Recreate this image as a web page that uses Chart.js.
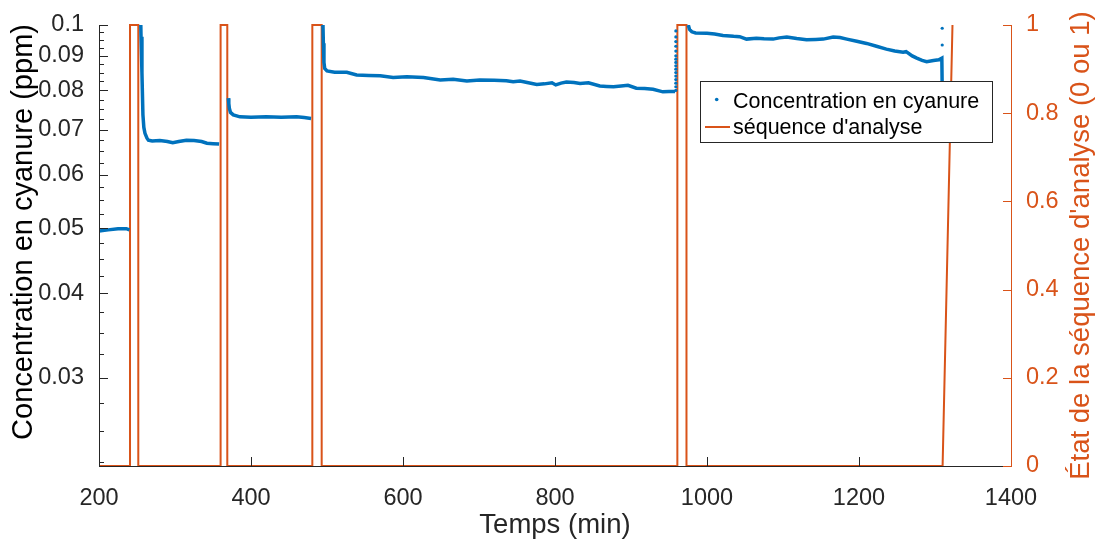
<!DOCTYPE html>
<html><head><meta charset="utf-8">
<script src="https://cdn.jsdelivr.net/npm/chart.js@4/dist/chart.umd.min.js"></script>
<style>html,body{margin:0;padding:0;background:#fff}</style>
</head><body>
<canvas id="c" width="1096" height="542"></canvas>
<script>
// ---- data ----
const concTime = [200,212,225,236,240, 246,
  255,255.3,256.5,257.8,259,260.5,263,265,270,280,290,297,305,315,325,335,342,350,358, 364,
  370.2,370.8,371.5,373,376.7,385.5,400,420,440,460,470,479, 486,
  494.7,495.2,496,497,500,510,526,539,555,570,587,605,627,649,666,684,701,720,736,745,754,765,776,786,796,801,808,815,825,833,844,859,868,877,887,896,907,918,929,942,950,958, 966,
  975.4,977,980,985,1000,1010,1021,1035,1043,1052,1065,1075,1087,1095,1105,1118,1131,1143,1153,1166,1175,1184,1197,1210,1223,1236,1247,1258,1262,1270,1276,1283,1289,1298,1305,1309,1309.5];
const concValue = [0.0495,0.0497,0.0499,0.0499,0.0497, null,
  0.1,0.0961,0.085,0.0736,0.0705,0.0691,0.068,0.0675,0.0673,0.0674,0.0672,0.0669,0.0672,0.0675,0.0674,0.0672,0.0668,0.0667,0.0666, null,
  0.0779,0.0765,0.0753,0.0742,0.0736,0.0731,0.0730,0.0731,0.0730,0.0731,0.0729,0.0727, null,
  0.1,0.094,0.088,0.0862,0.0855,0.0851,0.0851,0.0843,0.0842,0.0841,0.0836,0.0838,0.0836,0.0829,0.0831,0.0826,0.0829,0.0828,0.0827,0.0824,0.0826,0.0821,0.0816,0.0818,0.0821,0.0815,0.0820,0.0823,0.0822,0.0819,0.0821,0.0812,0.0811,0.0810,0.0812,0.0814,0.0806,0.0805,0.0803,0.0796,0.0797,0.0797, null,
  0.1,0.0985,0.0977,0.0973,0.0972,0.0970,0.0965,0.0962,0.0961,0.0953,0.0956,0.0954,0.0953,0.0957,0.0960,0.0955,0.0951,0.0952,0.0953,0.0960,0.0958,0.0953,0.0946,0.0939,0.0930,0.0921,0.0915,0.0911,0.0913,0.0900,0.0893,0.0886,0.0882,0.0886,0.0888,0.0893,0.080];
// isolated concentration dots (rise at ~959 min and points at ~1310 min)
const dotTime  = [959,959,959,959,959,959,959,959,959,959,959,959,959,959,959,959, 1309.5,1309.5];
const dotValue = [0.0800,0.0810,0.0820,0.0830,0.0840,0.0850,0.0860,0.0870,0.0880,0.0890,0.0900,0.0915,0.0930,0.0945,0.0960,0.0980, 0.0989,0.0934];
// analysis sequence state (0 or 1)
const seqTime  = [200,240.8,240.8,251.7,251.7,360,360,368.8,368.8,480.7,480.7,493,493,961,961,973,973,1310,1323];
const seqState = [0,0,1,1,0,0,1,1,0,0,1,1,0,0,1,1,0,0,1];
// axes
const xTicks = [200,400,600,800,1000,1200,1400];
const xTickLabels = ['200','400','600','800','1000','1200','1400'];
const yLeftTicks = [0.03,0.04,0.05,0.06,0.07,0.08,0.09,0.1];
const yLeftTickLabels = ['0.03','0.04','0.05','0.06','0.07','0.08','0.09','0.1'];
const yRightTicks = [0,0.2,0.4,0.6,0.8,1];
const yRightTickLabels = ['0','0.2','0.4','0.6','0.8','1'];
const xTitle = 'Temps (min)';
const yLeftTitle = 'Concentration en cyanure (ppm)';
const yRightTitle = "État de la séquence d'analyse (0 ou 1)";
const legendLabels = ['Concentration en cyanure', "séquence d'analyse"];

// ---- chart ----
const BLUE = '#0072BD', ORANGE = '#D95319', DARK = '#262626';
const FONT = "'Liberation Sans', Arial, sans-serif";

const concData = concTime.map((t,i)=>({x:t, y:concValue[i]}));
const dotData = dotTime.map((t,i)=>({x:t, y:dotValue[i]}));
const seqData = seqTime.map((t,i)=>({x:t, y:seqState[i]}));

function rotatedText(ctx, text, x, y, font, color) {
  ctx.save();
  ctx.fillStyle = color;
  ctx.font = font;
  ctx.textAlign = 'center';
  ctx.textBaseline = 'middle';
  ctx.translate(x, y);
  ctx.rotate(-Math.PI / 2);
  ctx.fillText(text, 0, 0);
  ctx.restore();
}

const overlay = {
  id: 'overlay',
  afterDraw(chart) {
    const ctx = chart.ctx, a = chart.chartArea;
    const xs = chart.scales.x, yl = chart.scales.y, yr = chart.scales.y1;
    ctx.save();
    ctx.lineWidth = 1;
    ctx.strokeStyle = DARK;
    ctx.beginPath();
    ctx.moveTo(a.left + 0.5, a.top); ctx.lineTo(a.left + 0.5, a.bottom + 1);
    ctx.moveTo(a.left, a.bottom + 0.5); ctx.lineTo(a.right + 1, a.bottom + 0.5);
    xTicks.forEach(v => { const p = Math.round(xs.getPixelForValue(v)) + 0.5; ctx.moveTo(p, a.bottom); ctx.lineTo(p, a.bottom - 9); });
    for (let k = 9; k <= 40; k++) {
      const v = k * 0.0025, major = (k % 4 === 0);
      const p = Math.round(yl.getPixelForValue(v)) + 0.5;
      ctx.moveTo(a.left, p); ctx.lineTo(a.left + (major ? 9 : 5), p);
    }
    ctx.stroke();
    ctx.strokeStyle = ORANGE;
    ctx.beginPath();
    ctx.moveTo(a.right + 0.5, a.top); ctx.lineTo(a.right + 0.5, a.bottom + 1);
    yRightTicks.forEach(v => { const p = Math.round(yr.getPixelForValue(v)) + 0.5; ctx.moveTo(a.right + 1, p); ctx.lineTo(a.right - 8, p); });
    ctx.stroke();
    // axis titles
    rotatedText(ctx, yLeftTitle, 24, 232, '29px ' + FONT, '#000');
    rotatedText(ctx, yRightTitle, 1081, (a.top + a.bottom) / 2, '27.5px ' + FONT, ORANGE);
    // legend
    const lx = 700.5, ly = 81.5, lw = 292, lh = 61;
    ctx.fillStyle = '#fff';
    ctx.fillRect(lx, ly, lw, lh);
    ctx.strokeStyle = DARK; ctx.lineWidth = 1;
    ctx.strokeRect(lx, ly, lw, lh);
    ctx.fillStyle = BLUE;
    ctx.beginPath(); ctx.arc(716.7, 99.5, 1.8, 0, Math.PI * 2); ctx.fill();
    ctx.strokeStyle = ORANGE; ctx.lineWidth = 2;
    ctx.beginPath(); ctx.moveTo(705, 127); ctx.lineTo(730, 127); ctx.stroke();
    ctx.fillStyle = '#000';
    ctx.font = '21.5px ' + FONT;
    ctx.textAlign = 'left'; ctx.textBaseline = 'alphabetic';
    ctx.fillText(legendLabels[0], 733, 107.5);
    ctx.fillText(legendLabels[1], 733, 134);
    ctx.restore();
  }
};

new Chart(document.getElementById('c'), {
  type: 'line',
  data: { datasets: [
    { label: legendLabels[0], data: concData, yAxisID: 'y', borderColor: BLUE, backgroundColor: BLUE, borderWidth: 3.5, pointRadius: 0, tension: 0, spanGaps: false },
    { label: 'points', data: dotData, yAxisID: 'y', showLine: false, pointRadius: 1.6, pointBorderWidth: 0, pointBackgroundColor: BLUE, borderColor: BLUE },
    { label: legendLabels[1], data: seqData, yAxisID: 'y1', borderColor: ORANGE, backgroundColor: ORANGE, borderWidth: 2, pointRadius: 0, tension: 0, clip: 2 }
  ]},
  options: {
    responsive: false, animation: false, events: [],
    layout: { padding: { top: 25, left: 0, right: 0, bottom: 0 } },
    plugins: { legend: { display: false }, tooltip: { enabled: false } },
    scales: {
      x: {
        type: 'linear', min: 200, max: 1400, position: 'bottom',
        afterBuildTicks: s => { s.ticks = xTicks.map(v => ({ value: v })); },
        afterFit: s => { s.height = 76; },
        grid: { display: false }, border: { display: false },
        ticks: { autoSkip: false, maxRotation: 0, padding: 10, color: DARK, font: { family: FONT, size: 23.5 }, callback: (v, i) => xTickLabels[i] },
        title: { display: true, text: xTitle, color: DARK, padding: { top: 0, bottom: 0 }, font: { family: FONT, size: 27.5 } }
      },
      y: {
        type: 'logarithmic', min: 0.0222, max: 0.1, position: 'left', bounds: 'data',
        afterBuildTicks: s => { s.ticks = yLeftTicks.map(v => ({ value: v })); },
        afterFit: s => { s.width = 99; },
        grid: { display: false }, border: { display: false },
        ticks: { autoSkip: false, padding: 7, color: DARK, font: { family: FONT, size: 23.5 }, callback: (v, i) => yLeftTickLabels[i] }
      },
      y1: {
        type: 'linear', min: 0, max: 1, position: 'right',
        afterBuildTicks: s => { s.ticks = yRightTicks.map(v => ({ value: v })); },
        afterFit: s => { s.width = 85; },
        grid: { display: false }, border: { display: false },
        ticks: { autoSkip: false, padding: 7, color: ORANGE, font: { family: FONT, size: 23.5 }, callback: (v, i) => yRightTickLabels[i] }
      }
    }
  },
  plugins: [overlay]
});
</script>
</body></html>
